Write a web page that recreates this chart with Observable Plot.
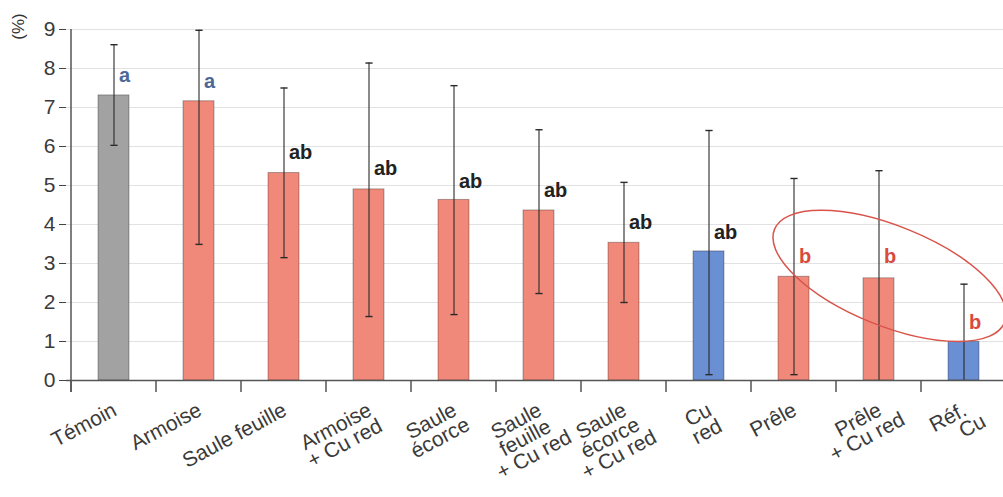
<!DOCTYPE html>
<html><head><meta charset="utf-8">
<script src="https://cdn.jsdelivr.net/npm/d3@7"></script>
<script src="https://cdn.jsdelivr.net/npm/@observablehq/plot@0.6"></script>
<style>
html,body{margin:0;padding:0;background:#fff;overflow:hidden;}
#chart{width:1003px;height:497px;overflow:hidden;position:relative;}
#chart svg{overflow:hidden;}
</style></head><body><div id="chart"></div>
<script>
// ---- data ----
const categories = ["Témoin","Armoise","Saule feuille","Armoise\n+ Cu red","Saule\nécorce","Saule\nfeuille\n+ Cu red","Saule\nécorce\n+ Cu red","Cu\nred","Prêle","Prêle\n+ Cu red","Réf.\n      Cu"];
const groups = ["Témoin","Plante","Plante","Plante","Plante","Plante","Plante","Cu","Plante","Plante","Cu"];
const values = [7.31,7.16,5.32,4.90,4.63,4.36,3.53,3.31,2.66,2.62,0.99];
const errLow = [6.03,3.49,3.15,1.64,1.69,2.23,2.00,0.15,0.15,0,0];
const errHigh = [8.61,8.98,7.50,8.14,7.56,6.43,5.08,6.41,5.18,5.38,2.47];
const letters = ["a","a","ab","ab","ab","ab","ab","ab","b","b","b"];
const letterY = [7.82,7.67,5.85,5.44,5.10,4.87,4.05,3.80,3.18,3.18,1.49];
const yTicks = [0,1,2,3,4,5,6,7,8,9];
const gridTicks = [1,2,3,4,5,6,7,8,9];
const yLabel = "(%)";

const rows = categories.map((cat, i) => ({cat, group: groups[i], value: values[i], lo: errLow[i], hi: errHigh[i], letter: letters[i], ly: letterY[i]}));

// ---- styles ----
const FONT = "'Liberation Sans', Arial, Helvetica, sans-serif";
const groupColors = {domain: ["Témoin","Plante","Cu"], range: ["#a2a2a2","#f1897a","#6b8fd3"]};
const letterColors = {a: "#4d6796", ab: "#222222", b: "#d94a3d"};

// horizontal cap symbol for error bars
const capSymbol = {draw(context, size) { const r = Math.sqrt(size / Math.PI); context.moveTo(-r, 0); context.lineTo(r, 0); }};

// x tick labels (rotated, one text per line)
const ANG = 28, LH = 19, LFS = 21;
const ctx = document.createElement("canvas").getContext("2d");
ctx.font = `${LFS}px 'Liberation Sans'`;
const cs = Math.cos(ANG*Math.PI/180), sn = Math.sin(ANG*Math.PI/180);
const labelMarks = [];
categories.forEach(cat => {
  const lines = cat.split("\n");
  const w1 = ctx.measureText(lines[0]).width;
  lines.forEach((ln, i) => {
    labelMarks.push(Plot.text([{cat, text: ln}], {
      x: "cat", y: () => 0, text: "text",
      rotate: -ANG, textAnchor: "middle", lineAnchor: "middle",
      fontSize: LFS, fill: "#3a3a3a",
      dx: 1 - cs*w1/2 + i*LH*sn,
      dy: 28 + sn*w1/2 + i*LH*cs
    }));
  });
});

const plot = Plot.plot({
  width: 1003, height: 497,
  marginLeft: 66, marginRight: 0, marginTop: 29, marginBottom: 117,
  style: {fontFamily: FONT, fontSize: "20px", color: "#333", background: "#fff", overflow: "hidden"},
  x: {domain: categories, range: [66, 1010], paddingInner: 0.64, paddingOuter: 0.32, axis: null},
  y: {domain: [0, 9]},
  color: groupColors,
  marks: [
    Plot.ruleY(gridTicks, {stroke: "#e2e2e2", strokeWidth: 1}),
    Plot.barY(rows, {x: "cat", y: "value", fill: "group", stroke: "#000", strokeOpacity: 0.3, strokeWidth: 1}),
    Plot.ruleX(rows, {x: "cat", y1: "lo", y2: "hi", stroke: "#2a2a2a", strokeWidth: 1.1}),
    Plot.dot(rows, {x: "cat", y: "hi", symbol: capSymbol, r: 3.6, fill: "none", stroke: "#2a2a2a", strokeWidth: 1.4}),
    Plot.dot(rows.filter(d => d.lo > 0.05), {x: "cat", y: "lo", symbol: capSymbol, r: 3.6, fill: "none", stroke: "#2a2a2a", strokeWidth: 1.4}),
    Plot.ruleY([0], {stroke: "#555", strokeWidth: 1.5}),
    Plot.axisY({ticks: yTicks, tickSize: 7, tickPadding: 4, fontSize: 21, stroke: "#444", fill: "#3a3a3a", label: null}),
    ...["a","ab","b"].map(L => Plot.text(rows.filter(d => d.letter === L), {
      x: "cat", y: "ly", text: "letter", dx: 5, textAnchor: "start",
      fontWeight: "bold", fontSize: 20, fill: letterColors[L]
    })),
    Plot.text([yLabel], {frameAnchor: "top-left", textAnchor: "middle", lineAnchor: "middle", dx: -48, dy: -3, rotate: -90, fontSize: 17, fill: "#333"}),
    ...labelMarks
  ]
});

// ---- axis lines, boundary ticks, annotation ellipse (through the plot's scales) ----
const xs = plot.scale("x"), ys = plot.scale("y");
const step = xs.step, bw = xs.bandwidth;
const sel = d3.select(plot);
const g = sel.append("g").attr("stroke", "#555").attr("stroke-width", 1.5);
const y0 = ys.apply(0);
const bounds = categories.map(c => xs.apply(c) - (step - bw)/2);
bounds.push(bounds[bounds.length-1] + step);
bounds.forEach(b => g.append("line").attr("x1", b).attr("x2", b).attr("y1", y0).attr("y2", y0 + 12));
g.append("line").attr("x1", bounds[0]).attr("x2", bounds[0]).attr("y1", ys.apply(9)).attr("y2", y0 + 12);

const ell = {at: "Prêle\n+ Cu red", shift: 0.13, yCenter: 2.67, rxSteps: 1.46, ryUnits: 1.28, angle: 22};
const cx = xs.apply(ell.at) + bw/2 + ell.shift*step;
const cy = ys.apply(ell.yCenter);
sel.append("ellipse")
  .attr("cx", 0).attr("cy", 0)
  .attr("rx", ell.rxSteps*step).attr("ry", ys.apply(0) - ys.apply(ell.ryUnits))
  .attr("transform", `translate(${cx},${cy}) rotate(${ell.angle})`)
  .attr("fill", "none").attr("stroke", "#d9534a").attr("stroke-width", 1.5);

document.getElementById("chart").append(plot);
</script>
</body></html>
